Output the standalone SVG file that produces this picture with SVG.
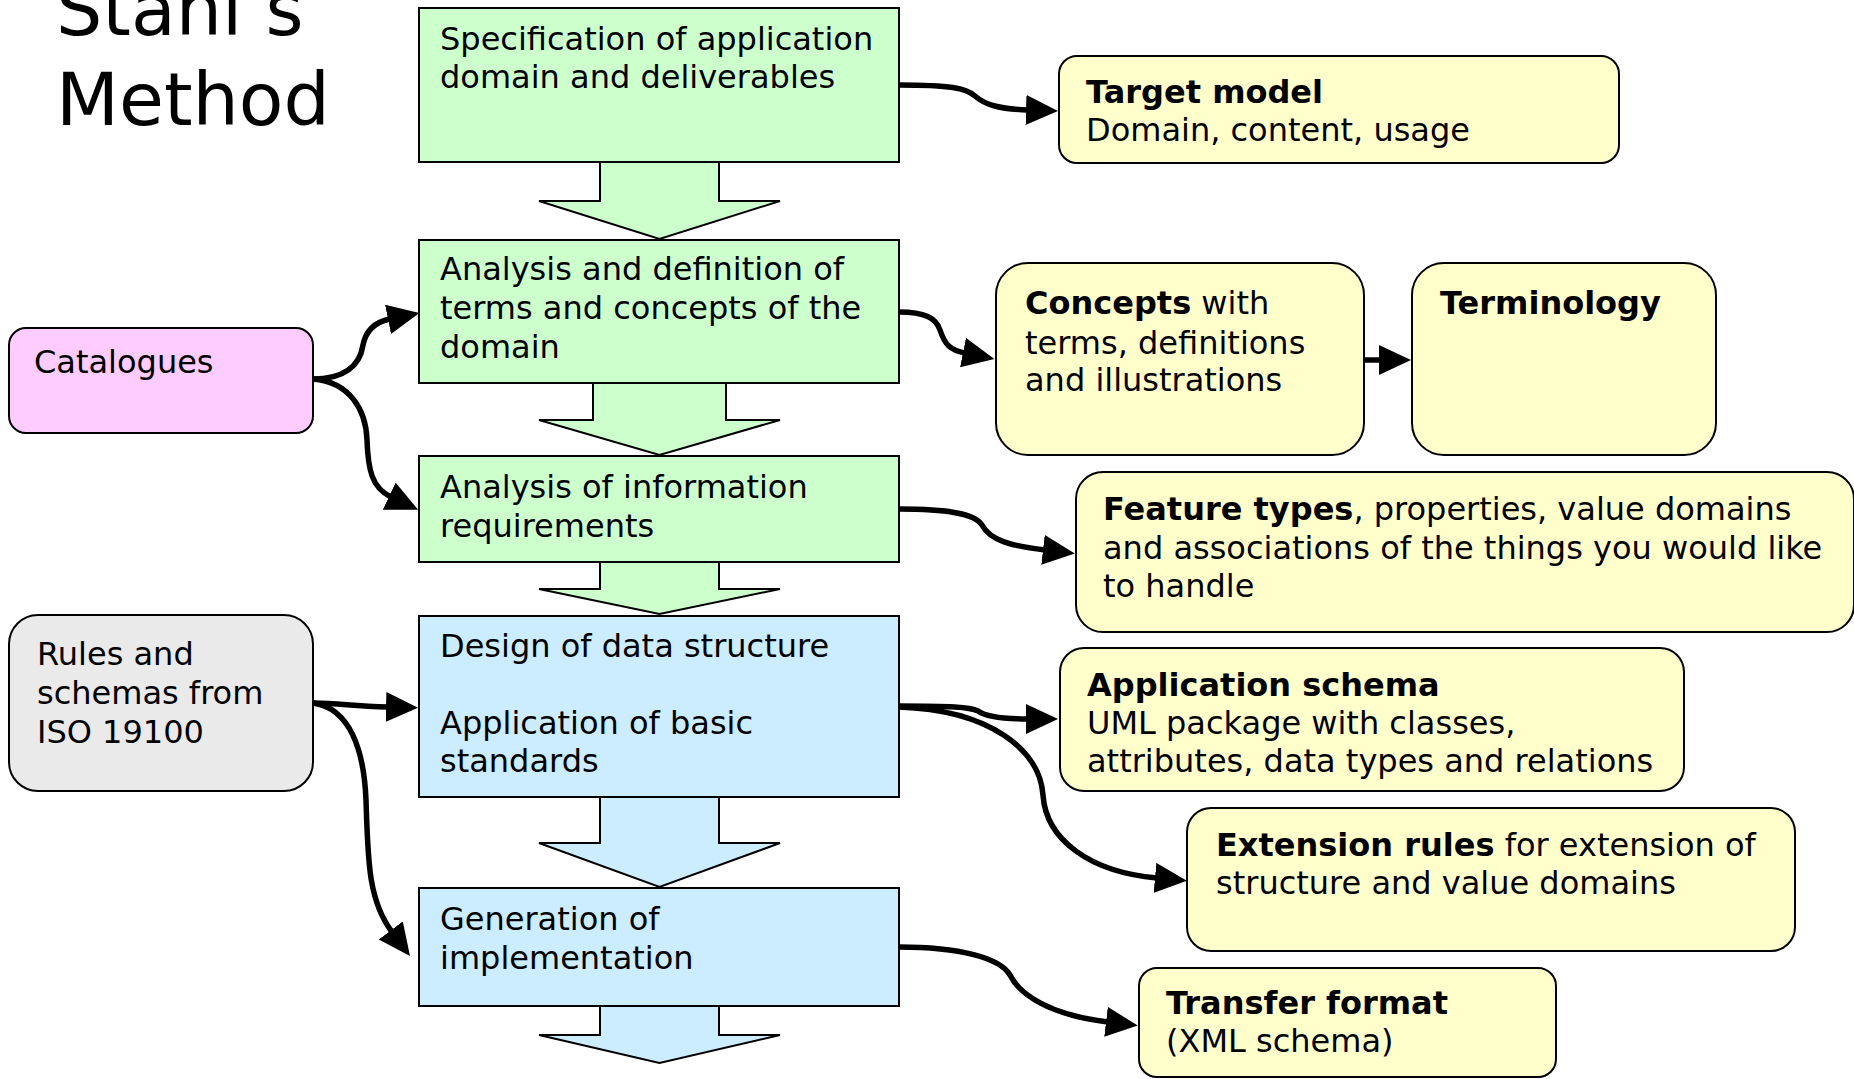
<svg xmlns="http://www.w3.org/2000/svg" width="1854" height="1079" viewBox="0 0 1854 1079">
  <style>
    text { font-family: "DejaVu Sans", Verdana, sans-serif; font-size: 32px; fill: #000; }
    .title { font-size: 73px; }
    .b { font-weight: bold; }
    .step { stroke: #000; stroke-width: 2; }
    .green { fill: #CCFFCC; }
    .blue { fill: #CCECFF; }
    .note { fill: #FFFFCC; stroke: #000; stroke-width: 2; }
    .pink { fill: #FFCCFF; stroke: #000; stroke-width: 2; }
    .grey { fill: #EAEAEA; stroke: #000; stroke-width: 2; }
    .conn { fill: none; stroke: #000; stroke-width: 5.5; marker-end: url(#head); }
  </style>
  <defs>
    <marker id="head" markerUnits="userSpaceOnUse" markerWidth="34" markerHeight="32" refX="2" refY="15" orient="auto">
      <path d="M0,0 L32,15 L0,30 z" fill="#000"/>
    </marker>
  </defs>

  <rect width="1854" height="1079" fill="#fff"/>

  <!-- title -->
  <g id="title">
    <text class="title" x="56" y="35">Stahl’s</text>
    <text class="title" x="56" y="125">Method</text>
  </g>

  <!-- process steps with block arrows -->
  <g id="step1">
    <polygon class="step green" points="600,162 719,162 719,201 780,201 659.5,239 539,201 600,201"/>
    <rect class="step green" x="419" y="8" width="480" height="154"/>
    <text x="440" y="50">Specification of application</text>
    <text x="440" y="88">domain and deliverables</text>
  </g>
  <g id="step2">
    <polygon class="step green" points="593,383 726,383 726,420 780,420 659.5,455 539,420 593,420"/>
    <rect class="step green" x="419" y="240" width="480" height="143"/>
    <text x="440" y="280">Analysis and definition of</text>
    <text x="440" y="319">terms and concepts of the</text>
    <text x="440" y="358">domain</text>
  </g>
  <g id="step3">
    <polygon class="step green" points="600,562 719,562 719,589 780,589 659.5,614 539,589 600,589"/>
    <rect class="step green" x="419" y="456" width="480" height="106"/>
    <text x="440" y="498">Analysis of information</text>
    <text x="440" y="537">requirements</text>
  </g>
  <g id="step4">
    <polygon class="step blue" points="600,797 719,797 719,843 780,843 659.5,887 539,843 600,843"/>
    <rect class="step blue" x="419" y="616" width="480" height="181"/>
    <text x="440" y="657">Design of data structure</text>
    <text x="440" y="734">Application of basic</text>
    <text x="440" y="772">standards</text>
  </g>
  <g id="step5">
    <polygon class="step blue" points="600,1006 719,1006 719,1035 780,1035 659.5,1063 539,1035 600,1035"/>
    <rect class="step blue" x="419" y="888" width="480" height="118"/>
    <text x="440" y="930">Generation of</text>
    <text x="440" y="969">implementation</text>
  </g>

  <!-- inputs -->
  <g id="catalogues">
    <rect class="pink" x="9" y="328" width="304" height="105" rx="17"/>
    <text x="34" y="373">Catalogues</text>
  </g>
  <g id="rules">
    <rect class="grey" x="9" y="615" width="304" height="176" rx="29"/>
    <text x="37" y="665">Rules and</text>
    <text x="37" y="704">schemas from</text>
    <text x="37" y="743">ISO 19100</text>
  </g>

  <!-- results -->
  <g id="target-model">
    <rect class="note" x="1059" y="56" width="560" height="107" rx="18"/>
    <text x="1086" y="103" class="b">Target model</text>
    <text x="1086" y="141">Domain, content, usage</text>
  </g>
  <g id="concepts">
    <rect class="note" x="996" y="263" width="368" height="192" rx="32"/>
    <text x="1025" y="314"><tspan class="b">Concepts</tspan> with</text>
    <text x="1025" y="354">terms, definitions</text>
    <text x="1025" y="391">and illustrations</text>
  </g>
  <g id="terminology">
    <rect class="note" x="1412" y="263" width="304" height="192" rx="32"/>
    <text x="1440" y="314" class="b">Terminology</text>
  </g>
  <g id="feature-types">
    <rect class="note" x="1076" y="472" width="778" height="160" rx="27"/>
    <text x="1103" y="520"><tspan class="b">Feature types</tspan>, properties, value domains</text>
    <text x="1103" y="559">and associations of the things you would like</text>
    <text x="1103" y="597">to handle</text>
  </g>
  <g id="application-schema">
    <rect class="note" x="1060" y="648" width="624" height="143" rx="24"/>
    <text x="1087" y="696" class="b">Application schema</text>
    <text x="1087" y="734">UML package with classes,</text>
    <text x="1087" y="772">attributes, data types and relations</text>
  </g>
  <g id="extension-rules">
    <rect class="note" x="1187" y="808" width="608" height="143" rx="24"/>
    <text x="1216" y="856"><tspan class="b">Extension rules</tspan> for extension of</text>
    <text x="1216" y="894">structure and value domains</text>
  </g>
  <g id="transfer-format">
    <rect class="note" x="1139" y="968" width="417" height="109" rx="18"/>
    <text x="1166" y="1014" class="b">Transfer format</text>
    <text x="1166" y="1052">(XML schema)</text>
  </g>

  <!-- connectors -->
  <g id="connectors">
    <path class="conn" d="M899,85 C950,85 966,88 975,96 C985,105 1000,109 1028,110"/>
    <path class="conn" d="M899,312 C925,312 936,318 940,330 C945,345 950,350 965,353"/>
    <path class="conn" d="M1364,360 L1381,360"/>
    <path class="conn" d="M313,379 C345,379 360,365 363,345 C366,330 375,322 390,319"/>
    <path class="conn" d="M313,379 C350,382 366,410 367,440 C368,470 372,488 391,497"/>
    <path class="conn" d="M899,509 C950,509 975,514 982,525 C990,540 1010,546 1045,550"/>
    <path class="conn" d="M313,703 C340,703 350,706 388,707"/>
    <path class="conn" d="M313,703 C350,708 364,750 366,800 C368,860 368,900 392,932"/>
    <path class="conn" d="M899,706 C950,706 970,707 978,711 C985,716 1000,719 1028,719"/>
    <path class="conn" d="M899,707 C990,710 1040,750 1043,795 C1046,840 1090,872 1157,878"/>
    <path class="conn" d="M899,947 C960,947 1000,958 1010,975 C1020,995 1050,1015 1108,1022"/>
  </g>
</svg>
